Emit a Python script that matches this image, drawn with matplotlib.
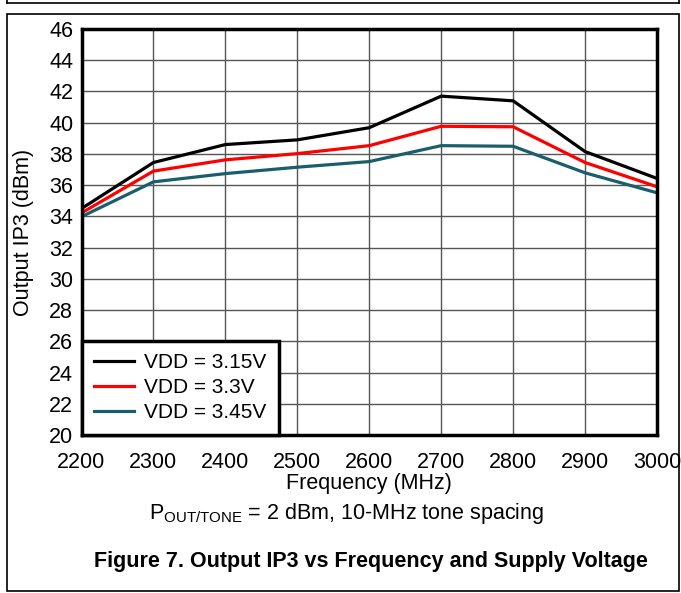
import matplotlib
matplotlib.use('Agg')
import matplotlib.pyplot as plt
from matplotlib.patches import Rectangle
from matplotlib.lines import Line2D

plt.rcParams['font.family'] = ['Liberation Sans', 'DejaVu Sans']
plt.rcParams['mathtext.fontset'] = 'custom'
plt.rcParams['mathtext.rm'] = 'Liberation Sans'

# data
freq = [2200, 2300, 2400, 2500, 2600, 2700, 2800, 2900, 3000]
ip3_315 = [34.5, 37.45, 38.6, 38.9, 39.68, 41.7, 41.4, 38.15, 36.43]
ip3_330 = [34.22, 36.9, 37.62, 38.02, 38.53, 39.77, 39.74, 37.45, 35.9]
ip3_345 = [33.98, 36.21, 36.74, 37.15, 37.51, 38.53, 38.49, 36.79, 35.51]
labels = ['VDD = 3.15V', 'VDD = 3.3V', 'VDD = 3.45V']
colors = ['#000000', '#ff0000', '#1a5d6c']

W, H = 681, 593
fig = plt.figure(figsize=(W / 100, H / 100), dpi=100)

# outer boxes (pixel coords -> figure fraction)
def px(x, y):
    return x / W, 1 - y / H

fig.add_artist(Line2D([7 / W, 679 / W], [1 - 3 / H, 1 - 3 / H], color='black', lw=1.2))
fig.add_artist(Line2D([7 / W, 7 / W], [1 - 3 / H, 1], color='black', lw=1.2))
fig.add_artist(Line2D([679 / W, 679 / W], [1 - 3 / H, 1], color='black', lw=1.2))
x0, y0 = px(7, 591)
x1, y1 = px(679, 14)
fig.add_artist(Rectangle((x0, y0), x1 - x0, y1 - y0, fill=False, ec='black', lw=1.2))

l, b = px(81.5, 435)
r, t = px(657, 29)
ax = fig.add_axes([l, b, r - l, t - b])

for vals, lab, c in zip([ip3_315, ip3_330, ip3_345], labels, colors):
    ax.plot(freq, vals, color=c, lw=2.3, label=lab)

ax.set_xlim(2200, 3000)
ax.set_ylim(20, 46)
ax.set_xticks(range(2200, 3001, 100))
ax.set_yticks(range(20, 47, 2))
ax.grid(True, color='#555555', lw=1.0)
ax.tick_params(length=0, labelsize=15.5)
ax.tick_params(axis='x', pad=12)
ax.tick_params(axis='y', pad=6)
for s in ax.spines.values():
    s.set_linewidth(2.5)

ax.set_xlabel('Frequency (MHz)', fontsize=15.5, labelpad=0)
ax.set_ylabel('Output IP3 (dBm)', fontsize=15.5, labelpad=11)

leg = ax.legend(loc='lower left', bbox_to_anchor=(0, 0), borderaxespad=0,
                fancybox=False, framealpha=1, edgecolor='black', fontsize=15,
                handlelength=1.9, labelspacing=0.3, borderpad=0.6, handletextpad=0.5)
leg.get_frame().set_linewidth(2.5)

fig.text(347 / W, 1 - 514 / H, r'P$_{\mathregular{OUT/TONE}}$ = 2 dBm, 10-MHz tone spacing',
         ha='center', va='center', fontsize=15.5)
fig.text(371 / W, 1 - 561 / H, 'Figure 7. Output IP3 vs Frequency and Supply Voltage',
         ha='center', va='center', fontsize=15.5, fontweight='bold')

fig.savefig('out.png', dpi=100)
